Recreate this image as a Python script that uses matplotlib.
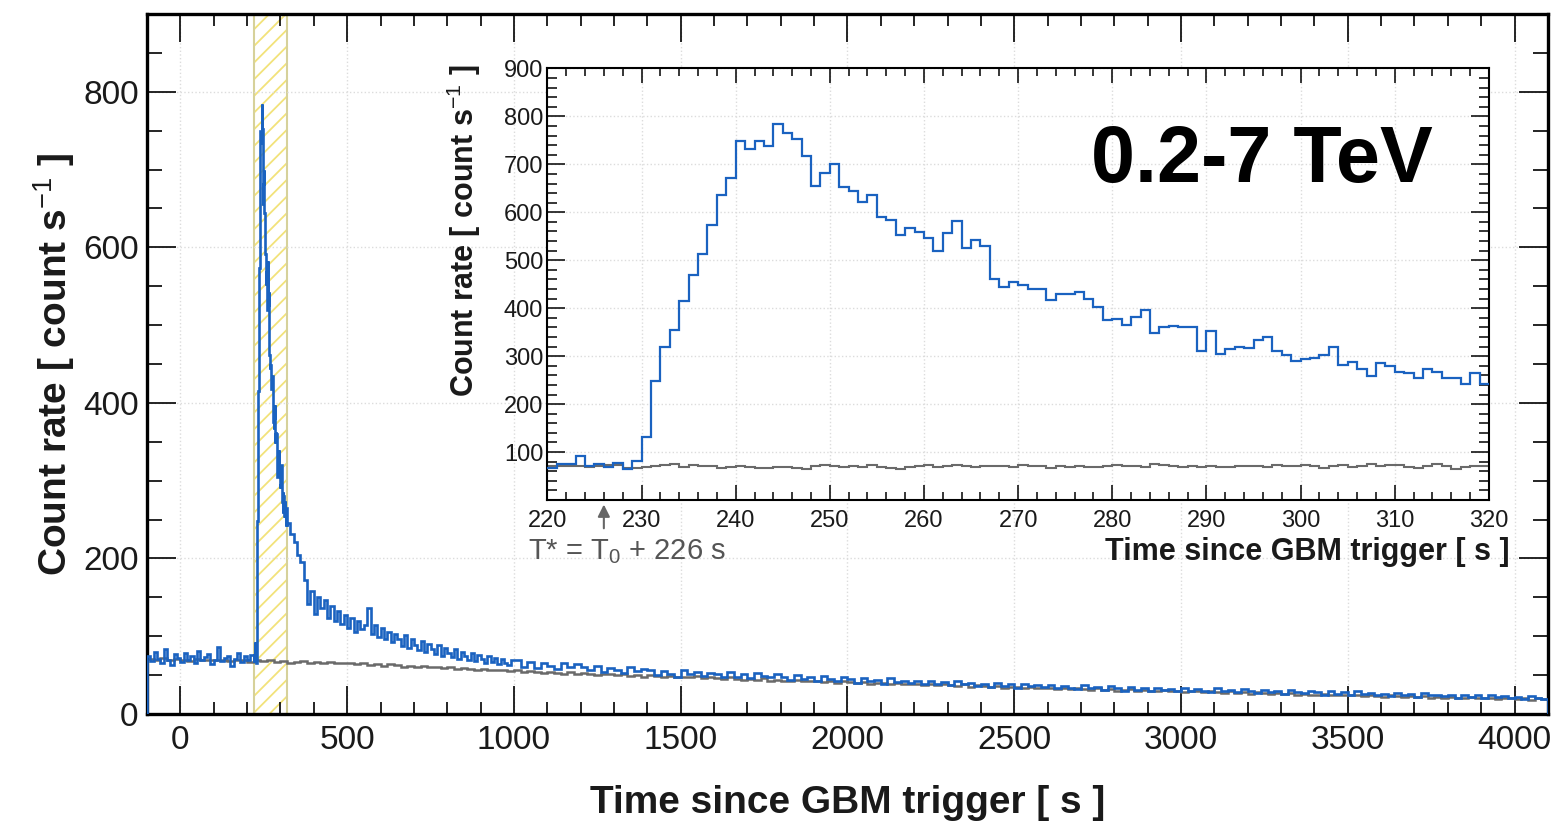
import numpy as np
import matplotlib
matplotlib.use('Agg')
import matplotlib.pyplot as plt
from matplotlib.ticker import MultipleLocator, FixedLocator

# ---- data (count rate, count/s) ----
# main light curve, blue: 10 s bins from -100 to 220
blue_pre = [75, 68, 80, 71, 66, 84, 70, 63, 77, 72, 67, 79, 70, 74, 65, 81,
            69, 73, 77, 64, 70, 86, 68, 72, 75, 62, 71, 78, 67, 74, 69, 76]
# 1 s bins from 220 to 320 (also the inset)
blue_burst = [67, 76, 76, 92, 70, 75, 68, 78, 65, 82,
              131, 248, 320, 355, 415, 469, 513, 573, 636, 672,
              749, 733, 749, 739, 784, 765, 752, 717, 654, 681,
              700, 652, 644, 621, 636, 591, 585, 552, 568, 559,
              547, 520, 556, 582, 526, 543, 529, 461, 444, 455,
              449, 440, 441, 418, 429, 429, 434, 419, 402, 376,
              378, 366, 381, 397, 348, 360, 363, 360, 360, 310,
              353, 305, 315, 320, 317, 333, 339, 310, 303, 290,
              295, 296, 303, 320, 282, 288, 273, 258, 285, 280,
              268, 265, 254, 274, 268, 254, 254, 242, 265, 242]
# 10 s bins from 320 to 1000
blue_decay = [245, 232, 221, 205, 196, 172, 142, 158, 128, 150,
              136, 147, 124, 139, 120, 133, 116, 127, 110, 124,
              106, 119, 109, 115, 136, 103, 114, 99, 110, 96,
              106, 93, 103, 97, 88, 101, 85, 96, 89, 82,
              94, 80, 90, 84, 77, 89, 75, 85, 79, 73,
              84, 71, 80, 74, 70, 79, 68, 76, 71, 66,
              75, 67, 72, 64, 71, 66, 63, 70]
# 20 s bins from 1000 to 4100
blue_tail = [69, 61, 67, 59, 66, 62, 58, 66, 60, 64,
             60, 56, 62, 54, 59, 57, 53, 61, 55, 58,
             56, 50, 55, 51, 48, 56, 52, 54, 49, 53,
             52, 47, 54, 48, 51, 46, 53, 49, 47, 51,
             48, 44, 50, 45, 47, 42, 49, 45, 43, 47,
             45, 40, 46, 42, 44, 39, 46, 41, 43, 40,
             42, 38, 43, 39, 41, 37, 42, 38, 40, 36,
             39, 35, 40, 36, 38, 34, 39, 36, 37, 35,
             37, 33, 36, 34, 32, 37, 33, 35, 31, 36,
             34, 30, 35, 31, 33, 30, 34, 31, 32, 29,
             33, 29, 32, 30, 28, 33, 29, 31, 28, 32,
             30, 27, 31, 28, 30, 26, 31, 28, 27, 30,
             28, 25, 29, 26, 28, 24, 29, 26, 27, 25,
             26, 23, 27, 24, 26, 22, 27, 24, 25, 23,
             24, 21, 25, 22, 24, 21, 25, 22, 23, 21,
             22, 19, 23, 20, 19]
# background, grey: 20 s bins from -100 to 4100
gray_main = [71, 70, 72, 69, 71, 70, 68, 71, 69, 70,
             69, 70, 68, 70, 69, 67, 69, 68, 69, 67,
             68, 66, 67, 68, 66, 67, 65, 67, 66, 65,
             66, 64, 65, 63, 64, 62, 64, 63, 61, 62,
             61, 62, 60, 61, 59, 60, 58, 59, 58, 57,
             58, 56, 57, 56, 55, 57, 54, 55, 54, 53,
             54, 53, 52, 54, 51, 53, 52, 50, 52, 51,
             50, 51, 49, 50, 48, 50, 49, 48, 49, 47,
             48, 47, 49, 46, 47, 46, 45, 47, 45, 44,
             45, 44, 46, 43, 44, 43, 42, 44, 42, 43,
             42, 41, 43, 40, 42, 41, 40, 41, 39, 40,
             40, 39, 40, 38, 39, 38, 37, 39, 37, 38,
             37, 36, 38, 35, 37, 36, 35, 36, 34, 35,
             35, 34, 35, 33, 34, 33, 32, 34, 32, 33,
             32, 31, 33, 31, 32, 30, 31, 32, 30, 31,
             30, 29, 31, 29, 30, 28, 29, 30, 28, 29,
             28, 27, 29, 27, 28, 26, 28, 27, 26, 27,
             26, 27, 25, 26, 25, 24, 26, 25, 24, 25,
             24, 25, 23, 24, 23, 22, 24, 23, 22, 23,
             22, 23, 21, 22, 21, 22, 20, 21, 22, 20,
             21, 20, 19, 21, 20, 19, 20, 18, 20, 19]
# background in the inset, 1 s bins from 220 to 320
gray_inset = [71, 70, 70, 71, 69, 70, 72, 74, 66, 67,
              68, 70, 72, 76, 69, 73, 71, 70, 67, 69,
              70, 68, 66, 67, 68, 69, 67, 64, 70, 72,
              71, 69, 70, 68, 73, 69, 66, 64, 68, 70,
              72, 69, 71, 73, 70, 69, 70, 71, 70, 68,
              72, 70, 71, 66, 70, 69, 70, 68, 69, 71,
              74, 70, 70, 69, 76, 72, 70, 68, 70, 69,
              70, 68, 69, 70, 70, 71, 69, 72, 70, 71,
              72, 71, 66, 70, 72, 69, 70, 75, 70, 72,
              73, 68, 66, 70, 76, 70, 64, 69, 70, 71]
inset_yticks = [100, 200, 300, 400, 500, 600, 700, 800, 900]

blue = '#1a62c0'
grey = '#6a6a6a'

plt.rcParams['font.family'] = ['Liberation Sans', 'DejaVu Sans']
plt.rcParams['mathtext.fontset'] = 'custom'
plt.rcParams['mathtext.rm'] = 'Liberation Sans'
plt.rcParams['mathtext.bf'] = 'Liberation Sans:bold'
plt.rcParams['hatch.linewidth'] = 1.3

fig = plt.figure(figsize=(15.51, 8.27), dpi=100)

# ---- main panel ----
ax = fig.add_axes([0.0948, 0.1366, 0.9032, 0.8464])
main_edges = np.concatenate([np.arange(-100, 220, 10), np.arange(220, 320, 1),
                             np.arange(320, 1000, 10), np.arange(1000, 4101, 20)])
main_blue = blue_pre + blue_burst + blue_decay + blue_tail

ax.grid(True, which='major', ls=':', color='#dcdcdc', lw=1.0, zorder=0)
ax.axvspan(220, 320, facecolor='none', edgecolor='#f2e27a', hatch='//', lw=0, zorder=1)
ax.axvline(220, color='#d6d19a', lw=1.5, zorder=1)
ax.axvline(320, color='#d6d19a', lw=1.5, zorder=1)
ax.stairs(gray_main, np.arange(-100, 4101, 20), baseline=None, color=grey, lw=1.8, zorder=2)
ax.stairs(main_blue, main_edges, baseline=0, color=blue, lw=1.9, zorder=3)

ax.set_xlim(-100, 4100)
ax.set_ylim(0, 900)
ax.xaxis.set_major_locator(MultipleLocator(500))
ax.xaxis.set_minor_locator(MultipleLocator(100))
ax.yaxis.set_major_locator(MultipleLocator(200))
ax.yaxis.set_minor_locator(MultipleLocator(50))
ax.tick_params(which='both', direction='in', top=True, right=True, width=1.2,
               labelsize=24, labelcolor='#1a1a1a')
ax.tick_params(axis='x', which='major', length=20, pad=8)
ax.tick_params(axis='x', which='minor', length=8.5)
ax.tick_params(axis='y', which='major', length=21, pad=6)
ax.tick_params(axis='y', which='minor', length=10.5)
for s in ax.spines.values():
    s.set_linewidth(2.4)

ax.text(0.5, -0.127, 'Time since GBM trigger [ s ]', transform=ax.transAxes,
        ha='center', va='center', fontsize=28, fontweight='bold', color='#1a1a1a')
ax.text(-0.066, 0.5, r'Count rate [ count s$^{\mathrm{-1}}$ ]', transform=ax.transAxes,
        rotation=90, ha='center', va='center', fontsize=28, fontweight='bold', color='#1a1a1a')

# ---- inset ----
ins = fig.add_axes([0.3529, 0.3954, 0.6071, 0.5218])
ins.set_facecolor('white')
inset_edges = np.arange(220, 321, 1)
ins.grid(True, which='major', ls=':', color='#dcdcdc', lw=1.0, zorder=0)
ins.stairs(gray_inset, inset_edges, baseline=None, color=grey, lw=1.5, zorder=2)
ins.stairs(blue_burst, inset_edges, baseline=None, color=blue, lw=1.6, zorder=3)

ins.set_xlim(220, 320)
ins.set_ylim(0, 900)
ins.xaxis.set_major_locator(MultipleLocator(10))
ins.xaxis.set_minor_locator(MultipleLocator(2))
ins.yaxis.set_major_locator(FixedLocator(inset_yticks))
ins.yaxis.set_minor_locator(MultipleLocator(20))
ins.tick_params(which='both', direction='in', top=True, right=True, width=1.1,
                labelsize=17, labelcolor='#1a1a1a')
ins.tick_params(axis='x', which='major', length=10.5, pad=7)
ins.tick_params(axis='x', which='minor', length=5.5)
ins.tick_params(axis='y', which='major', length=13, pad=3)
ins.tick_params(axis='y', which='minor', length=7)
for s in ins.spines.values():
    s.set_linewidth(1.5)

ins.text(1.022, -0.12, 'Time since GBM trigger [ s ]', transform=ins.transAxes,
         ha='right', va='center', fontsize=22, fontweight='bold', color='#1a1a1a')
ins.text(-0.089, 1.008, r'Count rate [ count s$^{\mathrm{-1}}$ ]', transform=ins.transAxes,
         rotation=90, ha='center', va='top', fontsize=22, fontweight='bold', color='#1a1a1a')
ins.text(-0.021, -0.12, r'T* = T$_{\mathrm{0}}$ + 226 s', transform=ins.transAxes,
         ha='left', va='center', fontsize=21, color='#555555')
ins.annotate('', xy=(226, -0.004), xycoords=('data', 'axes fraction'),
             xytext=(226, -0.072), textcoords=('data', 'axes fraction'),
             arrowprops=dict(arrowstyle='-|>', color='#666666', lw=1.5, mutation_scale=18),
             annotation_clip=False)

fig.text(0.7034, 0.7803, '0.2-7 TeV', ha='left', va='baseline', fontsize=57,
         fontweight='bold', color='black')

fig.savefig('out.png', dpi=100)
